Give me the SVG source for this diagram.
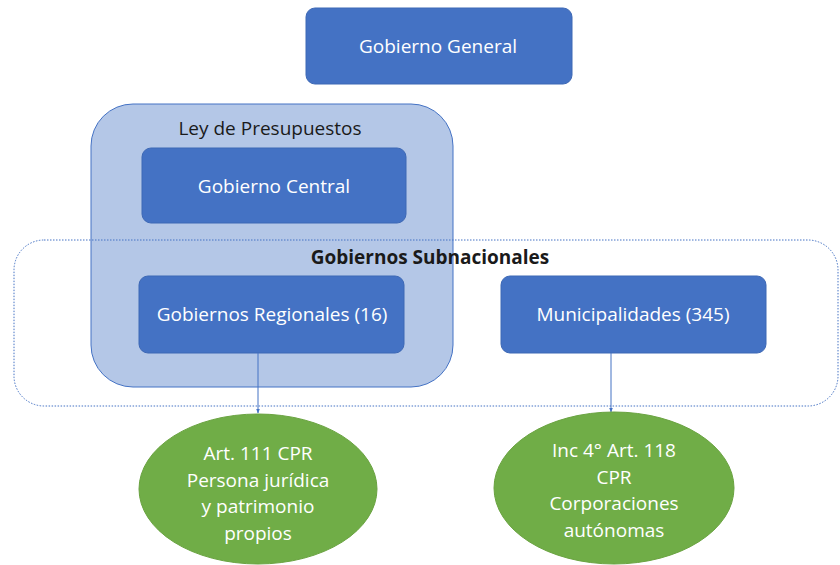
<svg xmlns="http://www.w3.org/2000/svg" width="840" height="565" viewBox="0 0 840 565">
<defs>
<style>
.box{fill:#4472c4;stroke:#3d68b5;stroke-width:1}
.wt{fill:#ffffff;font-family:"Open Sans","Liberation Sans",sans-serif;font-size:19px;text-anchor:middle;dominant-baseline:central}
.bt{fill:#1a1a1a;font-family:"Open Sans","Liberation Sans",sans-serif;font-size:19px;text-anchor:middle;dominant-baseline:central}
.ell{fill:#70ad47;stroke:#6aa341;stroke-width:1}
.conn{stroke:#4472c4;stroke-width:1;fill:none}
</style>
<marker id="arr" viewBox="0 0 10 10" refX="9" refY="5" markerWidth="5" markerHeight="5" orient="auto">
<path d="M0,1 L10,5 L0,9 z" fill="#4472c4"/>
</marker>
</defs>
<rect width="840" height="565" fill="#ffffff"/>
<g id="ley-presupuestos">
<rect x="91" y="104" width="362" height="283" rx="42" fill="#b4c7e7" stroke="#4472c4" stroke-width="1"/>
<text class="bt" x="270" y="128">Ley de Presupuestos</text>
</g>
<g id="gobiernos-subnacionales">
<rect x="14" y="240" width="824" height="166" rx="30" fill="none" stroke="#4472c4" stroke-width="1" stroke-dasharray="1.5 1.5"/>
<text class="bt" x="430" y="257" font-weight="bold" font-size="18">Gobiernos Subnacionales</text>
</g>
<g id="gobierno-general">
<rect class="box" x="306" y="8" width="266" height="76" rx="9"/>
<text class="wt" x="438" y="46">Gobierno General</text>
</g>
<g id="gobierno-central">
<rect class="box" x="142" y="148" width="264" height="75" rx="9"/>
<text class="wt" x="274" y="186">Gobierno Central</text>
</g>
<g id="gobiernos-regionales">
<rect class="box" x="139" y="276" width="265" height="77" rx="9"/>
<text class="wt" x="272" y="314">Gobiernos Regionales (16)</text>
</g>
<g id="municipalidades">
<rect class="box" x="501" y="276" width="265" height="77" rx="9"/>
<text class="wt" x="633" y="314">Municipalidades (345)</text>
</g>
<g id="connectors">
<line class="conn" x1="258" y1="353" x2="258" y2="413" marker-end="url(#arr)"/>
<line class="conn" x1="611" y1="353" x2="611" y2="412" marker-end="url(#arr)"/>
</g>
<g id="art-111">
<ellipse class="ell" cx="258" cy="489" rx="119" ry="75"/>
<text class="wt" x="258" y="453">Art. 111 CPR</text>
<text class="wt" x="258" y="480">Persona jurídica</text>
<text class="wt" x="258" y="506">y patrimonio</text>
<text class="wt" x="258" y="533">propios</text>
</g>
<g id="inc-4-art-118">
<ellipse class="ell" cx="614" cy="488" rx="120" ry="76"/>
<text class="wt" x="614" y="450">Inc 4° Art. 118</text>
<text class="wt" x="614" y="477">CPR</text>
<text class="wt" x="614" y="503">Corporaciones</text>
<text class="wt" x="614" y="530">autónomas</text>
</g>
</svg>
